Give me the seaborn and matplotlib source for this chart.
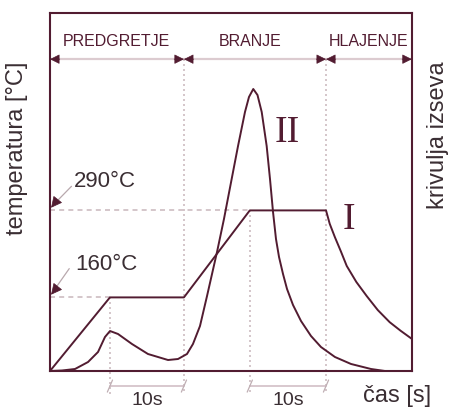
import numpy as np
import pandas as pd
import seaborn as sns
import matplotlib.pyplot as plt

# ---------------- data ----------------
# curve I: temperature profile [s, °C]
time_I = [0, 8.1, 18.1, 27.0, 37.3, 37.8, 38.5, 39.3, 40.1, 41.4, 42.8, 44.3, 45.9, 47.4, 48.9]
temp_I = [50, 160, 160, 290, 290, 270, 250, 229, 207, 183, 162, 141, 123, 110, 98]

# curve II: glow curve (relative intensity)
time_II = [0, 1.62, 3.38, 5.14, 6.49, 7.43, 8.11, 9.19, 11.08, 13.24, 15.95, 17.30, 18.51,
           19.32, 20.27, 21.22, 22.57, 23.51, 24.55, 25.41, 26.35, 26.89, 27.47, 28.04,
           28.61, 29.28, 29.73, 30.14, 30.54, 30.95, 31.49, 32.03, 32.84, 33.92, 35.27,
           36.62, 38.51, 40.68, 43.38, 45.27, 48.92]
glow_II = [0, 0.0014, 0.0056, 0.0251, 0.0531, 0.0950, 0.1117, 0.1034, 0.0754, 0.0475, 0.0307,
           0.0335, 0.0475, 0.0754, 0.1257, 0.2095, 0.3324, 0.4246, 0.5363, 0.6285, 0.7235,
           0.7654, 0.7877, 0.7709, 0.7235, 0.6285, 0.5363, 0.4441, 0.3687, 0.3184, 0.2709,
           0.2291, 0.1844, 0.1397, 0.0978, 0.0670, 0.0391, 0.0196, 0.0056, 0, 0]

phase_names = ["PREDGRETJE", "BRANJE", "HLAJENJE"]
phase_edges = [0, 18.1, 37.3, 48.9]
hold_start = [8.1, 27.0]
hold_end = [18.1, 37.3]
hold_label = ["10s", "10s"]
temp_marks = [160, 290]
temp_labels = ["160°C", "290°C"]

# ---------------- style ----------------
sns.set_theme(style="white")
plt.rcParams['font.family'] = ['Liberation Sans', 'DejaVu Sans']

DARK = "#521c31"
LIGHT = "#cdbcc1"
TXT = "#3a2e33"

fig = plt.figure(figsize=(4.49, 4.10), dpi=100)
ax = fig.add_axes([50/449, 38/410, 362/449, 358/410])
ax.set_xlim(0, 48.92)
ax.set_ylim(50, 585)
ax2 = ax.twinx()
ax2.set_ylim(0, 1)

sns.lineplot(x=time_I, y=temp_I, ax=ax, color=DARK, lw=1.4, sort=False, estimator=None)
sns.lineplot(x=time_II, y=glow_II, ax=ax2, color=DARK, lw=1.4, sort=False, estimator=None)

for a in (ax, ax2):
    a.set_xticks([]); a.set_yticks([])
    a.set_xlabel(''); a.set_ylabel('')
for s in ax.spines.values():
    s.set_color(DARK); s.set_linewidth(1.5)
for s in ax2.spines.values():
    s.set_visible(False)

y_row = 516      # arrow row level (data)
y_low = 15.6     # bottom of the dotted guide lines
y_br = 27.5      # bracket level

# dashed temperature guides
ax.plot([0, hold_start[0]], [temp_marks[0]] * 2, color=LIGHT, lw=1.2, ls=(0, (3, 2.5)), zorder=1)
ax.plot([0, hold_start[1]], [temp_marks[1]] * 2, color=LIGHT, lw=1.2, ls=(0, (3, 2.5)), zorder=1)

# dotted verticals
for xs, ytop in [(hold_start[0], temp_marks[0]), (hold_end[0], y_row),
                 (hold_start[1], temp_marks[1]), (hold_end[1], y_row)]:
    ax.plot([xs, xs], [ytop, y_low], color=LIGHT, lw=1.2, ls=(0, (1.2, 1.8)), clip_on=False, zorder=1)

# arrow row
ax.plot([phase_edges[0], phase_edges[-1]], [y_row, y_row], color="#dccbd0", lw=1.6, zorder=1)
for i, name in enumerate(phase_names):
    a0, a1 = phase_edges[i], phase_edges[i + 1]
    for tip, off in [(a0, 7), (a1, -7)]:
        ax.annotate("", xy=(tip, y_row), xytext=(off, 0), textcoords="offset points",
                    arrowprops=dict(arrowstyle="-|>,head_length=0.6,head_width=0.3",
                                    color=DARK, lw=0.5, shrinkA=0, shrinkB=0,
                                    mutation_scale=10), annotation_clip=False)
phase_cx = [9.0, 27.0, 43.1]
for name, cx in zip(phase_names, phase_cx):
    ax.text(cx, 544.6, name, ha="center", va="center", fontsize=11.5, color=DARK)

# temperature labels with leader arrows
lab_pos = {160: (7.6, 210), 290: (7.45, 334)}
tail = {160: (2.6, 203), 290: (2.9, 326)}
for tm, tl in zip(temp_marks, temp_labels):
    lx, ly = lab_pos[tm]
    ax.text(lx, ly, tl, ha="center", va="center", fontsize=16, color=TXT)
    tx, ty = tail[tm]
    ax.annotate("", xy=(0.25, tm + 6), xytext=(tx, ty),
                arrowprops=dict(arrowstyle="-", color="#b8a8ad", lw=0.9, shrinkA=0, shrinkB=0),
                annotation_clip=False)
    ax.annotate("", xy=(0.15, tm + 4), xytext=(4, 5), textcoords="offset points",
                arrowprops=dict(arrowstyle="-|>,head_length=0.7,head_width=0.35",
                                color=DARK, lw=0.5, shrinkA=0, shrinkB=0, mutation_scale=10),
                annotation_clip=False)

# 10 s brackets
for s0, s1, lab in zip(hold_start, hold_end, hold_label):
    ax.plot([s0, s1], [y_br, y_br], color="#d6c4ca", lw=1.3, clip_on=False)
    for xx in (s0, s1):
        ax.plot([xx - 0.35, xx + 0.35], [y_br - 9, y_br + 9], color="#bfaeb3", lw=0.9, clip_on=False)
    ax.text((s0 + s1) / 2, 1.0, lab, ha="center", va="baseline", fontsize=14, color=TXT)

# curve labels
ax.text(32.0, 408, "II", ha="center", va="center", fontsize=27, color=DARK,
        family=["Liberation Serif", "DejaVu Serif"])
ax.text(40.4, 277, "I", ha="center", va="center", fontsize=27, color=DARK,
        family=["Liberation Serif", "DejaVu Serif"])

# axis labels
fig.text(17/449, 1 - 148/410, "temperatura [°C]", rotation=90, ha="center", va="center",
         fontsize=17, color=TXT)
fig.text(438/449, 1 - 135/410, "krivulja izseva", rotation=90, ha="center", va="center",
         fontsize=17, color=TXT)
fig.text(397/449, 1 - 396/410, "čas [s]", ha="center", va="center", fontsize=17, color=TXT)

fig.savefig("out.png", dpi=100)
